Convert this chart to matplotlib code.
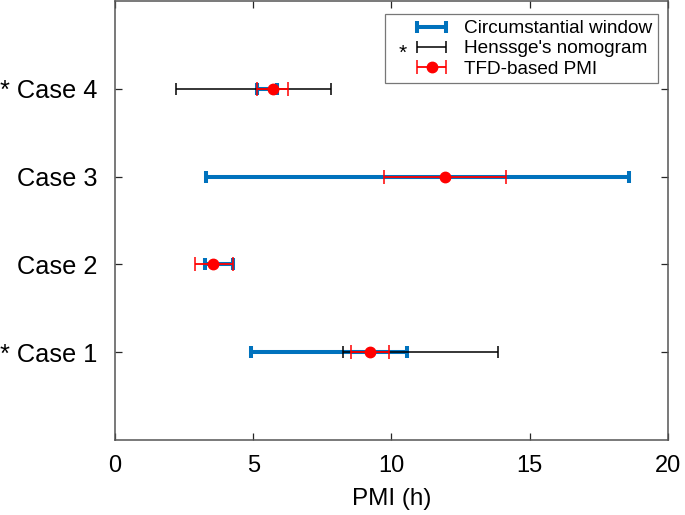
import matplotlib
matplotlib.use('Agg')
import matplotlib.pyplot as plt
from matplotlib.container import ErrorbarContainer
from matplotlib.legend_handler import HandlerErrorbar
import numpy as np

plt.rcParams['font.family'] = ['Liberation Sans', 'DejaVu Sans']

# Data
cases = [1, 2, 3, 4]
case_labels = ['* Case 1', 'Case 2', 'Case 3', '* Case 4']

# circumstantial window (lower, upper)
win_lo = [4.93, 3.26, 3.28, 5.15]
win_hi = [10.56, 4.25, 18.6, 5.87]

# Henssge's nomogram (only cases 1 and 4)
hen_lo = [8.24, np.nan, np.nan, 2.2]
hen_hi = [13.87, np.nan, np.nan, 7.83]

# TFD-based PMI estimate and interval
tfd_est = [9.22, 3.53, 11.95, 5.72]
tfd_lo = [8.54, 2.89, 9.73, 5.15]
tfd_hi = [9.9, 4.25, 14.15, 6.27]

blue = '#0072BD'

fig = plt.figure(figsize=(6.85, 5.15), dpi=100)
ax = fig.add_axes([0.168, 0.146, 0.807, 0.852])

def mid_err(lo, hi):
    lo = np.array(lo, dtype=float)
    hi = np.array(hi, dtype=float)
    mid = (lo + hi) / 2
    return mid, np.vstack([mid - lo, hi - mid])

m, e = mid_err(win_lo, win_hi)
ax.errorbar(m, cases, xerr=e, fmt='none', ecolor=blue, elinewidth=2.9,
            capsize=4, capthick=2.9, label='Circumstantial window')

m, e = mid_err(hen_lo, hen_hi)
ax.errorbar(m, cases, xerr=e, fmt='none', ecolor='k', elinewidth=1.1,
            capsize=4, capthick=1.1, label="Henssge's nomogram")

est = np.array(tfd_est)
ax.errorbar(est, cases, xerr=[est - np.array(tfd_lo), np.array(tfd_hi) - est],
            fmt='o', color='r', ecolor='r', markersize=7.5, elinewidth=1.3,
            capsize=5, capthick=1.1, label='TFD-based PMI')

ax.set_xlim(0, 20)
ax.set_ylim(0, 5)
ax.set_xticks([0, 5, 10, 15, 20])
ax.set_yticks(cases)
ax.set_yticklabels(case_labels)
ax.set_xlabel('PMI (h)', fontsize=17.5, labelpad=8)
ax.tick_params(direction='in', top=True, right=True,
               color='#262626', length=5, width=0.9)
ax.tick_params(axis='x', labelsize=17, pad=11)
ax.tick_params(axis='y', labelsize=18.3, pad=13)
for s in ax.spines.values():
    s.set_color('#555555')
    s.set_linewidth(1.1)

leg = ax.legend(loc='upper right', fontsize=13.7, frameon=True, fancybox=False,
                edgecolor='#555555', borderpad=0.3, labelspacing=0.15,
                handlelength=4.3, handletextpad=-0.45, borderaxespad=0,
                handler_map={ErrorbarContainer: HandlerErrorbar(xerr_size=0.75)},
                bbox_to_anchor=(0.982, 0.970))
leg.get_frame().set_linewidth(0.9)
ax.text(0.521, 0.880, '*', transform=ax.transAxes, fontsize=15,
        ha='center', va='center', zorder=10)

fig.savefig('out.png', dpi=100)
